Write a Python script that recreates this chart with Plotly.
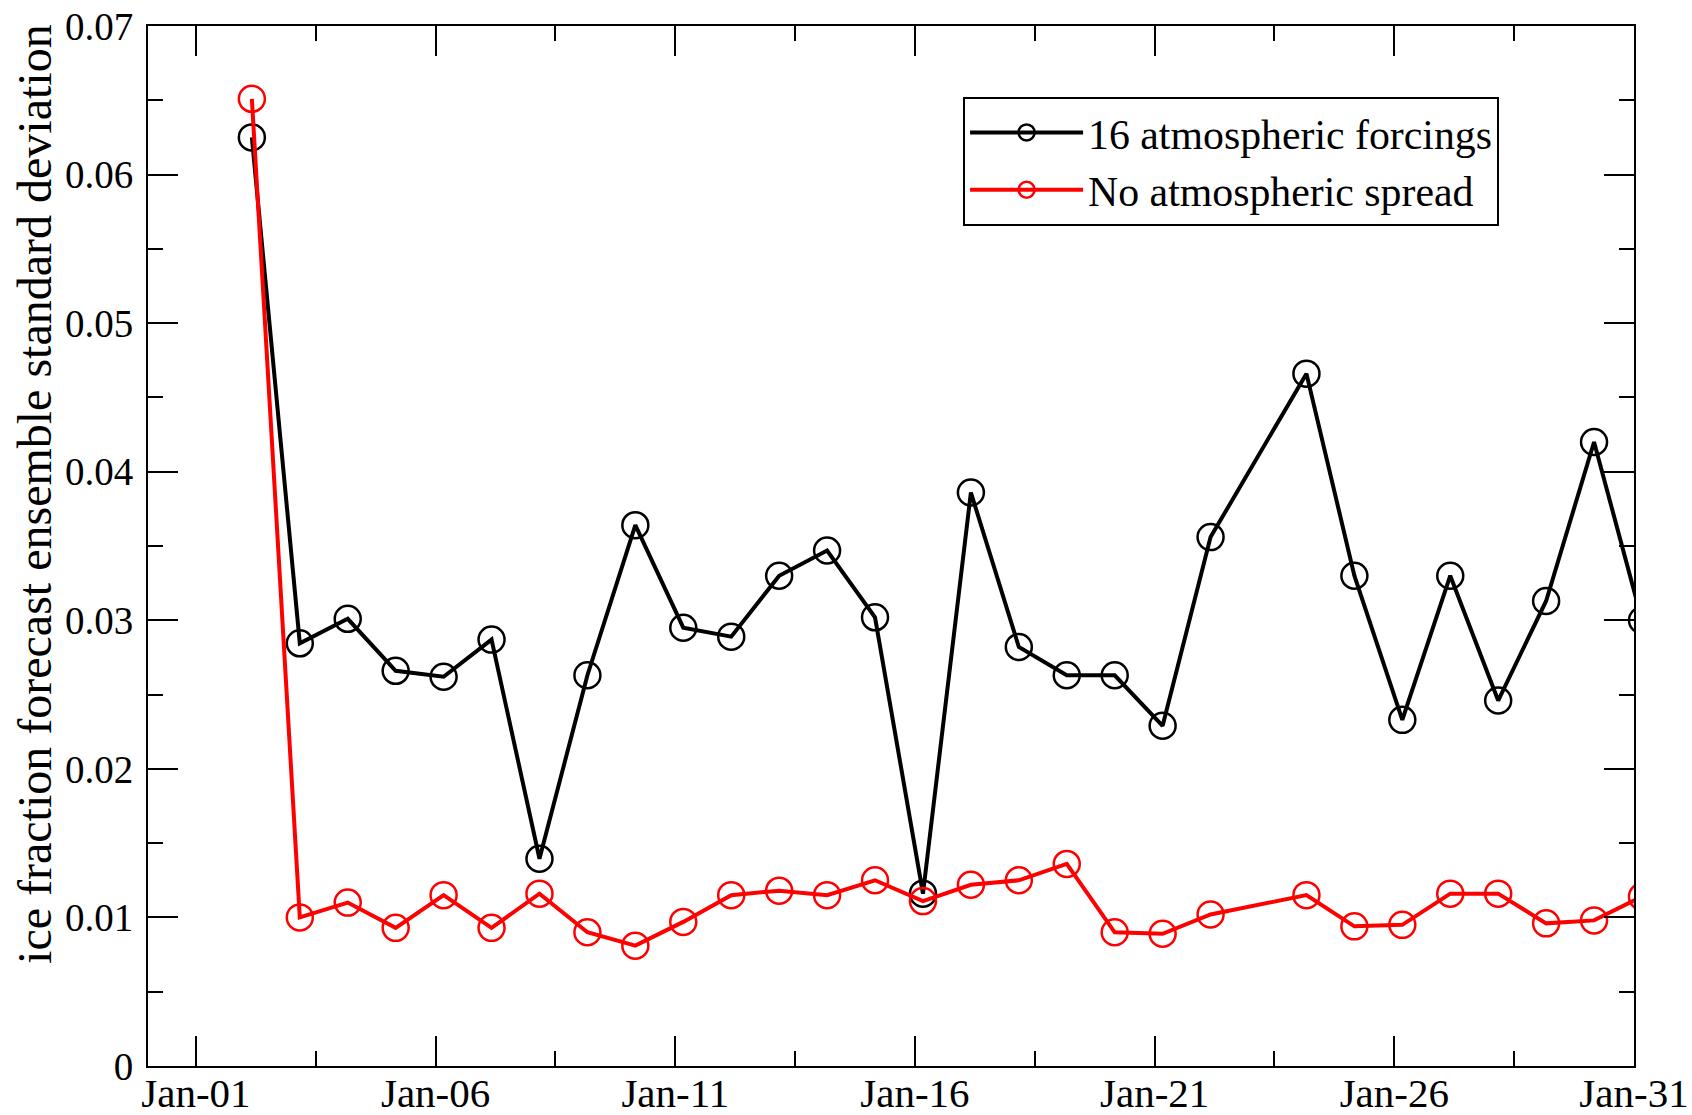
import plotly.graph_objects as go

# ---- data ----
dates = ["2011-01-02T04:00", "2011-01-03T04:00", "2011-01-04T04:00", "2011-01-05T04:00",
         "2011-01-06T04:00", "2011-01-07T04:00", "2011-01-08T04:00", "2011-01-09T04:00",
         "2011-01-10T04:00", "2011-01-11T04:00", "2011-01-12T04:00", "2011-01-13T04:00",
         "2011-01-14T04:00", "2011-01-15T04:00", "2011-01-16T04:00", "2011-01-17T04:00",
         "2011-01-18T04:00", "2011-01-19T04:00", "2011-01-20T04:00", "2011-01-21T04:00",
         "2011-01-22T04:00", "2011-01-24T04:00", "2011-01-25T04:00", "2011-01-26T04:00",
         "2011-01-27T04:00", "2011-01-28T04:00", "2011-01-29T04:00", "2011-01-30T04:00",
         "2011-01-31T04:00"]

forcings16 = [0.0625, 0.02845, 0.0301, 0.0266, 0.0262, 0.0287, 0.01395, 0.0263,
              0.0364, 0.0295, 0.0289, 0.0330, 0.0347, 0.0302, 0.0116, 0.0386,
              0.0282, 0.0263, 0.0263, 0.0229, 0.0356, 0.0466, 0.0330, 0.0233,
              0.0330, 0.0246, 0.0313, 0.0420, 0.0300]

no_spread = [0.0651, 0.0100, 0.0110, 0.0093, 0.0115, 0.0093, 0.0116, 0.0090,
             0.0081, 0.0097, 0.0115, 0.0118, 0.0115, 0.0125, 0.0111, 0.0122,
             0.0125, 0.0136, 0.0090, 0.0089, 0.0102, 0.0115, 0.0094, 0.0095,
             0.0116, 0.0116, 0.0096, 0.0098, 0.0114]

series_names = ["16 atmospheric forcings", "No atmospheric spread"]
series_colors = ["#000000", "#ff0000"]
y_title = "ice fraction forecast ensemble standard deviation"

FONT = "Liberation Serif, Times New Roman, serif"

fig = go.Figure()
for name, vals, col in zip(series_names, [forcings16, no_spread], series_colors):
    fig.add_trace(go.Scatter(
        x=dates, y=vals, name=name, mode="lines+markers",
        line=dict(color=col, width=4),
        marker=dict(symbol="circle-open", size=26, color=col, line=dict(width=2.5, color=col)),
    ))

DAY = 86400000
fig.update_layout(
    width=1692, height=1115,
    margin=dict(l=148, r=58, t=26, b=49),
    paper_bgcolor="white", plot_bgcolor="white",
    font=dict(family=FONT, size=39, color="black"),
    showlegend=True,
    legend=dict(
        x=0.5485, y=0.932, xanchor="left", yanchor="top",
        bordercolor="black", borderwidth=2, bgcolor="white",
        font=dict(family=FONT, size=41.8, color="black"),
        itemwidth=113,
    ),
    xaxis=dict(
        type="date", range=["2010-12-31", "2011-01-31"], automargin=False,
        tick0="2011-01-01", dtick=5 * DAY, tickformat="%b-%d",
        ticks="inside", ticklen=30, tickwidth=2, tickcolor="black",
        showline=True, linewidth=2, linecolor="black", mirror="ticks",
        showgrid=False, zeroline=False,
        minor=dict(ticks="inside", ticklen=15, tickwidth=2, tickcolor="black",
                   tick0="2011-01-01", dtick=2.5 * DAY, showgrid=False),
        tickfont=dict(family=FONT, size=41, color="black"),
        ticklabelstandoff=-10,
    ),
    yaxis=dict(
        range=[0, 0.07], tick0=0, dtick=0.01, automargin=False,
        ticks="inside", ticklen=30, tickwidth=2, tickcolor="black",
        showline=True, linewidth=2, linecolor="black", mirror="ticks",
        showgrid=False, zeroline=False,
        minor=dict(ticks="inside", ticklen=15, tickwidth=2, tickcolor="black",
                   dtick=0.005, showgrid=False),
        tickfont=dict(family=FONT, size=39, color="black"),
        ticklabelstandoff=5,
    ),
    annotations=[dict(
        text=y_title, textangle=-90, xref="paper", yref="paper",
        x=-0.0764, y=0.5505, xanchor="center", yanchor="middle",
        showarrow=False, font=dict(family=FONT, size=48, color="black"),
    )],
)

fig.write_html("out.html")
